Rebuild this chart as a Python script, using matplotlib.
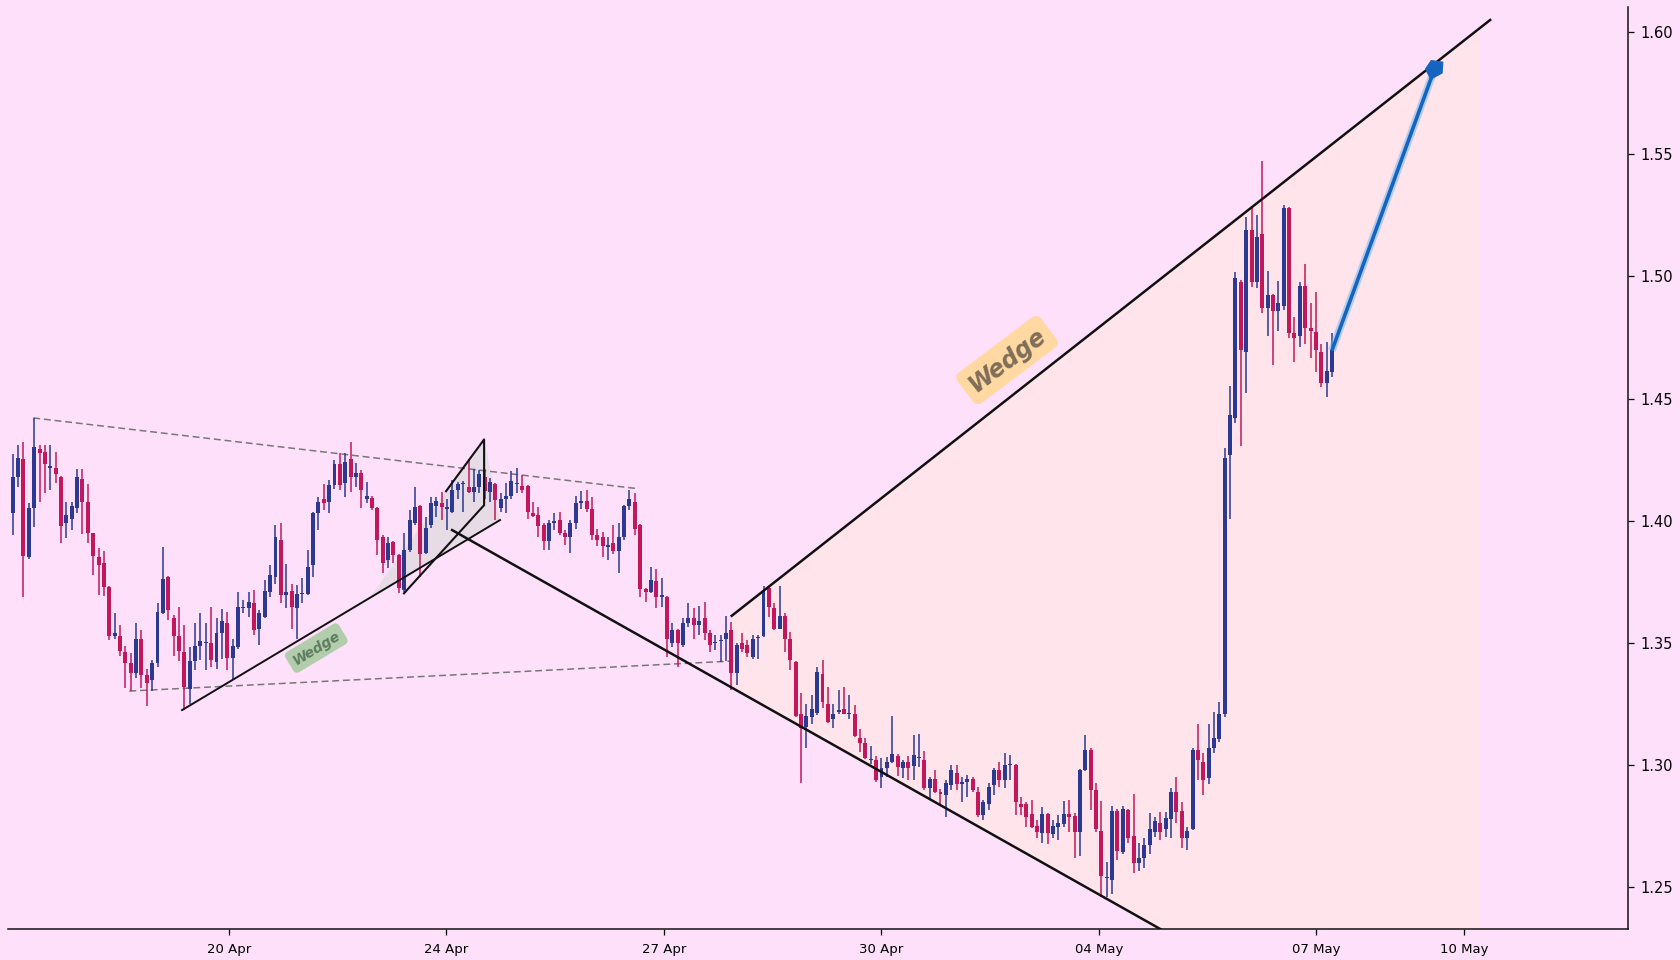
import matplotlib
matplotlib.use("Agg")
import matplotlib.pyplot as plt
import matplotlib.patheffects as pe
from matplotlib.patches import Polygon
import numpy as np

# ---------------- data ----------------
opens = [
 1.4030,1.4180,1.4252,1.3850,1.4051,1.4292,1.4282,1.4218,1.4218,1.4180,
 1.3989,1.4009,1.4051,1.4173,1.4078,1.3948,1.3850,1.3829,1.3730,1.3529,
 1.3529,1.3464,1.3419,1.3378,1.3518,1.3368,1.3350,1.3419,1.3621,1.3768,
 1.3603,1.3529,1.3461,1.3311,1.3427,1.3488,1.3498,1.3498,1.3420,1.3539,
 1.3580,1.3440,1.3484,1.3643,1.3641,1.3662,1.3559,1.3607,1.3709,1.3771,
 1.3921,1.3696,1.3712,1.3641,1.3700,1.3700,1.3821,1.4030,1.4091,1.4078,
 1.4146,1.4232,1.4153,1.4251,1.4180,1.4194,1.4090,1.4094,1.4053,1.3935,
 1.3839,1.3914,1.3859,1.3716,1.3880,1.3989,1.4060,1.3869,1.3982,1.4060,
 1.4071,1.4049,1.4037,1.4128,1.4150,1.4139,1.4119,1.4139,1.4180,1.4119,
 1.4149,1.4051,1.4091,1.4101,1.4150,1.4142,1.4142,1.4030,1.4023,1.3982,
 1.3918,1.3989,1.4003,1.3951,1.3932,1.3989,1.4071,1.4081,1.4050,1.3941,
 1.3934,1.3894,1.3910,1.3877,1.3932,1.4060,1.4078,1.3982,1.3719,1.3709,
 1.3753,1.3689,1.3689,1.3498,1.3552,1.3491,1.3580,1.3600,1.3573,1.3600,
 1.3539,1.3500,1.3509,1.3516,1.3552,1.3375,1.3498,1.3491,1.3443,1.3521,
 1.3528,1.3723,1.3641,1.3556,1.3610,1.3518,1.3420,1.3211,1.3157,1.3198,
 1.3214,1.3371,1.3248,1.3188,1.3218,1.3228,1.3211,1.3211,1.3109,1.3091,
 1.3020,1.3020,1.2952,1.2990,1.3012,1.3037,1.2990,1.3013,1.2997,1.3031,
 1.3020,1.2907,1.2941,1.2888,1.2877,1.2918,1.2968,1.2921,1.2929,1.2942,
 1.2890,1.2795,1.2840,1.2918,1.2979,1.2938,1.3000,1.3000,1.2840,1.2840,
 1.2798,1.2750,1.2720,1.2798,1.2717,1.2747,1.2758,1.2798,1.2791,1.2727,
 1.2979,1.3061,1.2900,1.2730,1.2538,1.2529,1.2813,1.2645,1.2818,1.2709,
 1.2600,1.2618,1.2672,1.2727,1.2761,1.2740,1.2781,1.2888,1.2811,1.2700,
 1.2740,1.3061,1.3013,1.2949,1.3068,1.3106,1.3211,1.4269,1.4419,1.4978,
 1.4692,1.5190,1.4978,1.5172,1.4869,1.4924,1.4860,1.4880,1.5279,1.4770,
 1.4757,1.4961,1.4790,1.4773,1.4689,1.4562,1.4610]
highs = [
 1.4273,1.4310,1.4323,1.4074,1.4422,1.4310,1.4310,1.4310,1.4282,1.4185,
 1.4078,1.4078,1.4210,1.4210,1.4149,1.3952,1.3887,1.3877,1.3735,1.3621,
 1.3573,1.3488,1.3457,1.3580,1.3552,1.3395,1.3430,1.3662,1.3891,1.3772,
 1.3614,1.3648,1.3573,1.3484,1.3580,1.3621,1.3580,1.3648,1.3600,1.3637,
 1.3628,1.3518,1.3709,1.3675,1.3709,1.3716,1.3634,1.3757,1.3818,1.3982,
 1.3989,1.3825,1.3741,1.3737,1.3764,1.3880,1.4037,1.4098,1.4150,1.4166,
 1.4248,1.4276,1.4278,1.4323,1.4235,1.4207,1.4160,1.4101,1.4058,1.3941,
 1.3935,1.3918,1.3863,1.3948,1.4044,1.4139,1.4064,1.4016,1.4096,1.4098,
 1.4119,1.4091,1.4167,1.4160,1.4162,1.4251,1.4210,1.4207,1.4210,1.4177,
 1.4153,1.4112,1.4153,1.4205,1.4217,1.4187,1.4146,1.4078,1.4057,1.3989,
 1.4003,1.4030,1.4037,1.3962,1.4003,1.4101,1.4123,1.4128,1.4098,1.3968,
 1.3955,1.3934,1.3982,1.3992,1.4064,1.4128,1.4112,1.3987,1.3723,1.3809,
 1.3801,1.3767,1.3694,1.3580,1.3556,1.3600,1.3662,1.3641,1.3651,1.3668,
 1.3552,1.3532,1.3532,1.3611,1.3586,1.3498,1.3539,1.3511,1.3532,1.3532,
 1.3732,1.3730,1.3664,1.3732,1.3621,1.3545,1.3425,1.3293,1.3248,1.3286,
 1.3402,1.3430,1.3320,1.3252,1.3307,1.3318,1.3286,1.3245,1.3146,1.3109,
 1.3077,1.3037,1.3027,1.3034,1.3202,1.3047,1.3020,1.3037,1.3123,1.3129,
 1.3058,1.2952,1.2979,1.2904,1.2938,1.2999,1.3000,1.2952,1.2959,1.2952,
 1.2911,1.2856,1.2925,1.2990,1.3013,1.3048,1.3041,1.3004,1.2870,1.2850,
 1.2856,1.2775,1.2829,1.2802,1.2775,1.2795,1.2854,1.2859,1.2802,1.2982,
 1.3123,1.3068,1.2925,1.2854,1.2604,1.2832,1.2822,1.2832,1.2822,1.2880,
 1.2679,1.2700,1.2802,1.2788,1.2809,1.2809,1.2908,1.2952,1.2850,1.2747,
 1.3068,1.3170,1.3048,1.3170,1.3218,1.3259,1.4299,1.4551,1.5019,1.4985,
 1.5242,1.5279,1.5251,1.5474,1.5022,1.4930,1.4981,1.5292,1.5285,1.4835,
 1.4978,1.5051,1.4890,1.4937,1.4723,1.4733,1.4770]
lows = [
 1.3940,1.4139,1.3689,1.3842,1.3975,1.4078,1.4112,1.4126,1.4153,1.3910,
 1.3930,1.3964,1.4030,1.3945,1.3910,1.3780,1.3698,1.3692,1.3511,1.3518,
 1.3447,1.3314,1.3303,1.3355,1.3314,1.3241,1.3304,1.3402,1.3617,1.3593,
 1.3447,1.3425,1.3225,1.3249,1.3389,1.3430,1.3389,1.3402,1.3395,1.3436,
 1.3389,1.3348,1.3477,1.3621,1.3607,1.3532,1.3491,1.3604,1.3689,1.3743,
 1.3662,1.3641,1.3559,1.3518,1.3664,1.3696,1.3771,1.3962,1.4044,1.4030,
 1.4132,1.4126,1.4098,1.4119,1.4139,1.4051,1.4071,1.4044,1.3859,1.3787,
 1.3805,1.3828,1.3703,1.3709,1.3873,1.3982,1.3771,1.3866,1.3969,1.4016,
 1.4003,1.3962,1.4033,1.4091,1.4037,1.4112,1.4078,1.4112,1.4091,1.4078,
 1.4003,1.4037,1.4030,1.4091,1.4112,1.4112,1.4009,1.4016,1.3934,1.3880,
 1.3880,1.3962,1.3941,1.3900,1.3869,1.3968,1.4050,1.4037,1.3921,1.3896,
 1.3853,1.3839,1.3866,1.3787,1.3921,1.4044,1.3941,1.3689,1.3668,1.3705,
 1.3641,1.3648,1.3443,1.3484,1.3402,1.3484,1.3566,1.3518,1.3532,1.3511,
 1.3464,1.3470,1.3423,1.3426,1.3307,1.3327,1.3464,1.3443,1.3436,1.3436,
 1.3525,1.3607,1.3552,1.3555,1.3464,1.3389,1.3198,1.2927,1.3068,1.3170,
 1.3204,1.3232,1.3173,1.3150,1.3211,1.3208,1.3187,1.3116,1.3054,1.3026,
 1.3004,1.2932,1.2908,1.2952,1.3007,1.2955,1.2949,1.2938,1.2938,1.2993,
 1.2897,1.2859,1.2884,1.2836,1.2788,1.2897,1.2897,1.2850,1.2870,1.2890,
 1.2788,1.2777,1.2818,1.2877,1.2911,1.2908,1.2938,1.2795,1.2795,1.2747,
 1.2744,1.2700,1.2679,1.2676,1.2700,1.2693,1.2747,1.2727,1.2618,1.2627,
 1.2976,1.2815,1.2727,1.2461,1.2461,1.2474,1.2611,1.2638,1.2679,1.2559,
 1.2567,1.2577,1.2638,1.2706,1.2693,1.2706,1.2700,1.2761,1.2659,1.2652,
 1.2736,1.2938,1.2877,1.2922,1.3048,1.3095,1.3198,1.4009,1.4400,1.4307,
 1.4521,1.4958,1.4951,1.4849,1.4756,1.4637,1.4778,1.4862,1.4750,1.4651,
 1.4710,1.4723,1.4665,1.4610,1.4549,1.4508,1.4590]
closes = [
 1.4180,1.4259,1.3857,1.4051,1.4300,1.4278,1.4231,1.4224,1.4190,1.3979,
 1.4023,1.4060,1.4180,1.4078,1.3948,1.3857,1.3821,1.3730,1.3529,1.3539,
 1.3468,1.3419,1.3378,1.3518,1.3368,1.3334,1.3419,1.3625,1.3761,1.3634,
 1.3529,1.3468,1.3318,1.3427,1.3488,1.3509,1.3502,1.3430,1.3539,1.3591,
 1.3440,1.3488,1.3648,1.3648,1.3668,1.3552,1.3621,1.3712,1.3780,1.3935,
 1.3698,1.3709,1.3648,1.3702,1.3702,1.3809,1.4030,1.4078,1.4074,1.4146,
 1.4232,1.4146,1.4242,1.4180,1.4194,1.4126,1.4101,1.4051,1.3921,1.3828,
 1.3910,1.3859,1.3723,1.3880,1.4003,1.4057,1.3866,1.3969,1.4071,1.4082,
 1.4057,1.4055,1.4128,1.4149,1.4156,1.4119,1.4139,1.4191,1.4123,1.4160,
 1.4085,1.4091,1.4101,1.4162,1.4156,1.4126,1.4037,1.4020,1.3978,1.3918,
 1.3989,1.4000,1.3948,1.3932,1.3989,1.4071,1.4082,1.4048,1.3941,1.3921,
 1.3896,1.3900,1.3877,1.3934,1.4060,1.4091,1.3968,1.3719,1.3709,1.3757,
 1.3689,1.3698,1.3518,1.3552,1.3498,1.3580,1.3600,1.3573,1.3589,1.3539,
 1.3491,1.3505,1.3512,1.3539,1.3375,1.3491,1.3477,1.3457,1.3518,1.3525,
 1.3716,1.3648,1.3556,1.3610,1.3518,1.3430,1.3200,1.3150,1.3200,1.3228,
 1.3382,1.3259,1.3177,1.3211,1.3225,1.3211,1.3214,1.3120,1.3091,1.3031,
 1.3023,1.2938,1.2990,1.3011,1.3047,1.2993,1.3013,1.2990,1.3041,1.3034,
 1.2907,1.2941,1.2890,1.2881,1.2925,1.2979,1.2921,1.2929,1.2942,1.2897,
 1.2795,1.2850,1.2911,1.2979,1.2938,1.3000,1.3002,1.2850,1.2829,1.2788,
 1.2747,1.2727,1.2798,1.2720,1.2750,1.2764,1.2798,1.2788,1.2727,1.2979,
 1.3061,1.2897,1.2740,1.2547,1.2542,1.2813,1.2649,1.2822,1.2700,1.2600,
 1.2618,1.2672,1.2740,1.2770,1.2727,1.2784,1.2888,1.2809,1.2700,1.2730,
 1.3061,1.3020,1.2938,1.3068,1.3109,1.3211,1.4259,1.4433,1.4992,1.4699,
 1.5190,1.4978,1.5163,1.4869,1.4924,1.4860,1.4890,1.5279,1.4770,1.4750,
 1.4961,1.4790,1.4778,1.4701,1.4562,1.4613,1.4701]

tick_positions = [40.3, 80.8, 121.4, 161.9, 202.6, 243.0, 270.7]
tick_labels = ["20 Apr", "24 Apr", "27 Apr", "30 Apr", "04 May", "07 May", "10 May"]
price_ticks = [1.25, 1.30, 1.35, 1.40, 1.45, 1.50, 1.55, 1.60]

# pattern annotations (bar index, price)
upper_dash_x, upper_dash_y = [3.84, 116.35], [1.4421, 1.4132]
lower_dash_x, lower_dash_y = [21.74, 134.4], [1.3303, 1.3426]
small_support_x, small_support_y = [31.57, 90.87], [1.3225, 1.4003]
flag_x = [80.8, 87.9, 87.9, 72.96]
flag_y = [1.4121, 1.4333, 1.4064, 1.3703]
flag_fill_x = [66.6, 80.8, 87.9, 90.87]
flag_fill_y = [1.3685, 1.4121, 1.4333, 1.4003]
big_lower_x, big_lower_y = [81.93, 213.98], [1.3962, 1.2329]
big_upper_x, big_upper_y = [134.07, 275.5], [1.3611, 1.6050]
zone_end_x = 273.5
arrow_x, arrow_y = [246.0, 265.3], [1.4697, 1.5860]
label_small = (56.6, 1.3479, "Wedge")
label_big = (185.4, 1.4658, "Wedge")

# ---------------- styling ----------------
BG = "#FFE0FA"
UP = "#2B3990"
DOWN = "#C2185B"
ARROW = "#1565C0"

fig = plt.figure(figsize=(16.8, 9.6), dpi=100, facecolor=BG)
ax = fig.add_axes([8/1680, 1-929/960, (1628-8)/1680, (929-7.5)/960])
ax.set_facecolor(BG)
ax.set_xlim(-0.88, 301.2)
ax.set_ylim(1.2329, 1.6101)

o = np.array(opens); h = np.array(highs); l = np.array(lows); c = np.array(closes)
x = np.arange(len(o))
up = c >= o
cols = np.where(up, UP, DOWN)

ax.vlines(x, l, h, colors=cols, linewidth=1.1, zorder=4)
body_b = np.minimum(o, c)
body_h = np.maximum(np.abs(c - o), 0.0004)
ax.bar(x, body_h, bottom=body_b, width=0.74, color=cols, linewidth=0, zorder=5)

def line_at(xs, ys, xv):
    return ys[0] + (ys[1] - ys[0]) * (xv - xs[0]) / (xs[1] - xs[0])

# big wedge zone fill
zx0, zx1 = big_upper_x[0], zone_end_x
zone = Polygon([(zx0, line_at(big_upper_x, big_upper_y, zx0)),
                (zx1, line_at(big_upper_x, big_upper_y, zx1)),
                (zx1, line_at(big_lower_x, big_lower_y, zx1)),
                (zx0, line_at(big_lower_x, big_lower_y, zx0))],
               closed=True, facecolor="#FFE6E6", edgecolor="none", alpha=0.75, zorder=1)
ax.add_patch(zone)

# flag grey fill
ax.add_patch(Polygon(list(zip(flag_fill_x, flag_fill_y)), closed=True,
                     facecolor="#D8D8D8", edgecolor="none", alpha=0.6, zorder=2))

# dashed channel
ax.plot(upper_dash_x, upper_dash_y, color="#777777", lw=1.1, ls=(0, (4.5, 2.5)), zorder=3)
ax.plot(lower_dash_x, lower_dash_y, color="#777777", lw=1.1, ls=(0, (4.5, 2.5)), zorder=3)

# small wedge lines
ax.plot(small_support_x, small_support_y, color="#111111", lw=1.4, zorder=6)
ax.plot(flag_x, flag_y, color="#111111", lw=1.5, zorder=6)

# big wedge lines
ext_x = [big_lower_x[0], 230]
ext_y = [big_lower_y[0], line_at(big_lower_x, big_lower_y, 230)]
ax.plot(ext_x, ext_y, color="#111111", lw=1.8, zorder=6)
ax.plot(big_upper_x, big_upper_y, color="#111111", lw=1.8, zorder=6)

# projection arrow (shaft with glow, blunt head)
ax.plot(arrow_x, arrow_y, color=ARROW, lw=2.6, solid_capstyle="butt", zorder=7,
        path_effects=[pe.Stroke(linewidth=5.5, foreground="#64B5F6", alpha=0.5), pe.Normal()])
p0 = ax.transData.transform((arrow_x[0], arrow_y[0]))
p1 = ax.transData.transform((arrow_x[1], arrow_y[1]))
u = (p1 - p0) / np.hypot(*(p1 - p0))
nrm = np.array([u[1], -u[0]])
head = [p1 - 13.5 * u,
        p1 - 6.0 * u - 8.5 * nrm,
        p1 + 4.0 * u - 6.0 * nrm,
        p1 + 6.5 * u + 5.5 * nrm,
        p1 - 4.0 * u + 8.5 * nrm]
ax.add_patch(Polygon(head, closed=True, transform=None, facecolor=ARROW,
                     edgecolor=ARROW, lw=0.8, zorder=8))

# labels
ax.text(label_small[0], label_small[1], label_small[2], rotation=31, ha="center", va="center",
        fontsize=10, fontweight="bold", fontstyle="italic", color="#5E7D5E",
        rotation_mode="anchor", zorder=9,
        bbox=dict(boxstyle="round,pad=0.35", fc="#A9CBA3", ec="none", alpha=0.9))
ax.text(label_big[0], label_big[1], label_big[2], rotation=37, ha="center", va="center",
        fontsize=17, fontweight="bold", fontstyle="italic", color="#7F6E58",
        rotation_mode="anchor", zorder=9,
        bbox=dict(boxstyle="round,pad=0.3", fc="#FFD899", ec="none", alpha=0.9))

ax.set_xticks(tick_positions)
ax.set_xticklabels(tick_labels, fontsize=9.5)
ax.yaxis.tick_right()
ax.set_yticks(price_ticks)
ax.set_yticklabels([f"{v:.2f}" for v in price_ticks], fontsize=10.5)
ax.tick_params(axis="x", length=4, width=0.9, pad=6)
ax.tick_params(axis="y", length=4, width=0.9, pad=5)
for s in ["left", "top"]:
    ax.spines[s].set_visible(False)
for s in ["bottom", "right"]:
    ax.spines[s].set_linewidth(1.1)
    ax.spines[s].set_color("#111111")

fig.savefig("out.png", dpi=100, facecolor=BG)
